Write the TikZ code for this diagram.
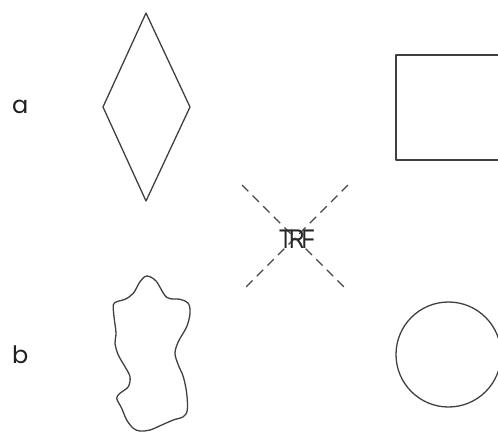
\documentclass[tikz,border=0pt]{standalone}
\usepackage{graphicx}
\usepackage{fontspec}
\setmainfont{Liberation Sans}
\newfontfamily\geofont{Poppins}
\begin{document}
\begin{tikzpicture}[x=1pt,y=-1pt,
  shapeline/.style={draw=black!75, line width=1.3pt, line join=round},
  crossline/.style={draw=black!72, line width=1.2pt, dash pattern=on 9pt off 6pt},
  rowlabel/.style={font=\geofont\fontsize{24}{24}\selectfont, text=black!88, anchor=base west, inner sep=0pt},
  trflabel/.style={font=\fontsize{27}{27}\selectfont, text=black!85, anchor=base, inner sep=0pt}]
\useasboundingbox (0,0) rectangle (498,432);
\clip (0,0) rectangle (498,432);
% labels
\node[rowlabel] (la) at (12,113) {a};
\node[rowlabel] (lb) at (12,363) {b};
% diamond
\draw[shapeline] (146,13) -- (190,107) -- (146,201) -- (103,107) -- cycle;
% rectangle
\draw[shapeline] (396,55) rectangle (505,160);
% circle
\draw[shapeline] (448.5,354.5) circle[radius=52.5];
% dashed cross
\coordinate (c1) at (242,185);
\coordinate (c2) at (348,291);
\coordinate (c3) at (348,185);
\coordinate (c4) at (242,291);
\draw[crossline] (c1) -- (c2);
\draw[crossline] (c3) -- (c4);
\node[trflabel] (trf) at (297,248) {\scalebox{0.8}[1]{T\kern-4ptR\kern-4ptF}};
% blob
\draw[shapeline] plot[smooth cycle, tension=0.55] coordinates {
 (146.7,276) (156,281) (166.7,297.3) (180,299.3) (188.3,303.3) (190,313.3)
 (186.7,326.7) (178.3,341.7) (175,353.3) (178.3,365) (183.3,376.7)
 (186.7,393.3) (187.3,410) (183.3,416.7) (173.3,420) (161.7,425)
 (150,430) (140,431) (133.3,428.3) (126.7,420) (121.7,408.3) (116.7,398.3)
 (120,393.3) (128.3,386.7) (130,376.7) (125,366.7) (118.3,355)
 (115,343.3) (116,333) (114,316.7) (113.3,305) (116.7,301.7) (125,299.3)
 (133.3,293.3) (140,281.7)};
\end{tikzpicture}
\end{document}
